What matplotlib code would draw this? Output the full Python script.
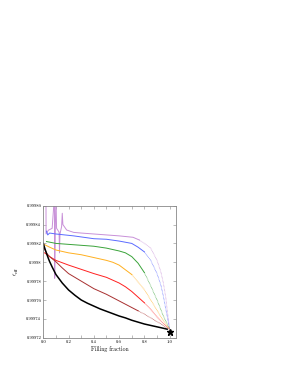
import numpy as np
import matplotlib
matplotlib.use("Agg")
import matplotlib.pyplot as plt
from matplotlib.ticker import MultipleLocator, FuncFormatter

plt.rcParams['font.family'] = ['cmr10', 'DejaVu Serif']
plt.rcParams['mathtext.fontset'] = 'cm'

# curves: filling fraction vs effective value
black_x = [0.0, 0.01, 0.02, 0.03, 0.04, 0.05, 0.07, 0.1, 0.15, 0.2, 0.25, 0.3, 0.35, 0.4,
           0.45, 0.5, 0.55, 0.6, 0.65, 0.7, 0.75, 0.8, 0.85, 0.9, 0.95, 0.98]
black_y = [0.99982, 0.9998155, 0.9998115, 0.9998077, 0.9998041, 0.9998007, 0.999795, 0.999787,
           0.999778, 0.9997706, 0.999765, 0.99976, 0.9997565, 0.9997535, 0.9997505, 0.999748,
           0.9997455, 0.999743, 0.999741, 0.9997385, 0.9997365, 0.9997345, 0.999733, 0.9997315,
           0.99973, 0.999729]

brown_x = [0.005, 0.03, 0.05, 0.1, 0.15, 0.2, 0.25, 0.3, 0.4, 0.5, 0.6, 0.7, 0.75, 0.8, 0.85,
           0.9, 0.95, 0.99]
brown_y = [0.999815, 0.999809, 0.999806, 0.9998005, 0.999794, 0.999788, 0.999784, 0.99978,
           0.999772, 0.999766, 0.999759, 0.999752, 0.9997485, 0.999745, 0.999741, 0.999737,
           0.999733, 0.999729]

red_x = [0.01, 0.05, 0.1, 0.15, 0.2, 0.3, 0.4, 0.5, 0.55, 0.6, 0.65, 0.7, 0.75, 0.8, 0.85,
         0.9, 0.95, 1.0]
red_y = [0.99981, 0.999806, 0.999802, 0.9997995, 0.999797, 0.9997925, 0.999788, 0.999784,
         0.999781, 0.999778, 0.999774, 0.999769, 0.999763, 0.999757, 0.99975, 0.999742,
         0.999735, 0.999729]

orange_x = [0.005, 0.05, 0.1, 0.2, 0.3, 0.4, 0.5, 0.55, 0.6, 0.65, 0.7, 0.75, 0.8, 0.85,
            0.9, 0.95, 1.0]
orange_y = [0.999819, 0.999816, 0.999813, 0.99981, 0.999808, 0.999805, 0.999802, 0.9998,
            0.999797, 0.999792, 0.999787, 0.999779, 0.999771, 0.99976, 0.999749, 0.999738,
            0.999729]

green_x = [0.025, 0.1, 0.2, 0.3, 0.4, 0.5, 0.6, 0.65, 0.7, 0.75, 0.8, 0.85, 0.9, 0.95, 1.0]
green_y = [0.999822, 0.99982, 0.999819, 0.999818, 0.999817, 0.999815, 0.999812, 0.99981,
           0.999806, 0.999799, 0.999789, 0.999775, 0.99976, 0.999743, 0.999729]

blue_x = [0.025, 0.035, 0.05, 0.1, 0.24, 0.4, 0.5, 0.6, 0.7, 0.75, 0.8, 0.85, 0.9, 0.93,
          0.95, 0.97, 1.0]
blue_y = [0.999833, 0.999829, 0.999831, 0.99983, 0.999828, 0.999825, 0.9998244, 0.9998225,
          0.99982, 0.999816, 0.999811, 0.999802, 0.999788, 0.999776, 0.999764, 0.99975,
          0.999729]

purple_x = [0.021, 0.022, 0.04, 0.07, 0.088, 0.09, 0.095, 0.10, 0.105, 0.125, 0.128, 0.132,
            0.145, 0.15, 0.155, 0.185, 0.24, 0.3, 0.4, 0.5, 0.6, 0.71, 0.76, 0.8, 0.85, 0.9,
            0.93, 0.95, 0.97, 0.98, 1.0]
purple_y = [0.99987, 0.99983, 0.999834, 0.999836, 0.99987, 0.999783, 0.999836, 0.99987,
            0.999836, 0.999832, 0.99981, 0.99983, 0.999838, 0.999852, 0.99984, 0.9998342,
            0.9998317, 0.999831, 0.99983, 0.999829, 0.999828, 0.9998265, 0.9998236, 0.99982,
            0.999815, 0.999802, 0.99979, 0.999778, 0.999762, 0.99975, 0.999729]

star_x = [1.0]
star_y = [0.9997265]

series = [
    (purple_x, purple_y, '#c890d8', 0.78),
    (blue_x, blue_y, '#5b6bff', 0.8),
    (green_x, green_y, '#3aa33a', 0.8),
    (orange_x, orange_y, '#ffb020', 0.72),
    (red_x, red_y, '#ff2020', 0.8),
    (brown_x, brown_y, '#a83030', 0.78),
]

fig = plt.figure(figsize=(3.08, 3.82), dpi=100)
ax = fig.add_axes([0.1406, 0.116, 0.4308, 0.3455])

for xs, ys, col, cut in series:
    xs = np.array(xs)
    ys = np.array(ys)
    k = (xs <= cut).sum()
    ax.plot(xs[:k], ys[:k], color=col, lw=0.7, solid_joinstyle='round')
    ax.plot(xs[k - 1:], ys[k - 1:], color=col, lw=0.6, alpha=0.85, linestyle=(0, (0.8, 0.8)))

ax.plot(black_x, black_y, color='black', lw=1.1, solid_joinstyle='round')
ax.plot(star_x, star_y, marker='*', color='black', markersize=5, linestyle='none', clip_on=False)

ax.set_xlim(0, 1.05)
ax.set_ylim(0.99972, 0.99986)
ax.xaxis.set_major_locator(MultipleLocator(0.2))
ax.xaxis.set_minor_locator(MultipleLocator(0.1))
ax.yaxis.set_major_locator(MultipleLocator(0.00002))
ax.xaxis.set_major_formatter(FuncFormatter(lambda v, p: f'{v:.1f}'))
ax.yaxis.set_major_formatter(FuncFormatter(lambda v, p: f'{round(v, 6):g}'))

for s in ax.spines.values():
    s.set_color('#888888')
    s.set_linewidth(0.6)
ax.tick_params(which='both', direction='in', top=True, right=True, length=2,
               width=0.4, color='#888888', labelsize=3.3, pad=1.5)

ax.set_xlabel('Filling fraction', fontsize=4.2, labelpad=1.5)
ax.set_ylabel(r'$\epsilon_{\rm eff}$', fontsize=4.5, labelpad=4)

fig.savefig('out.png', dpi=100)
